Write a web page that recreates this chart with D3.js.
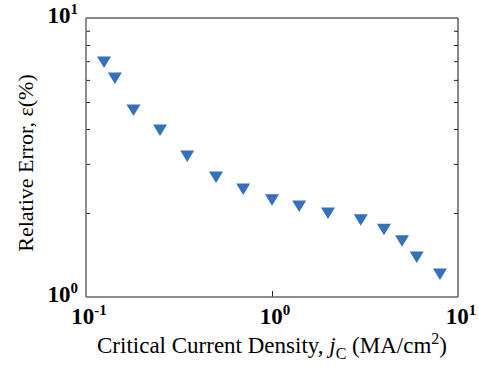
<!DOCTYPE html>
<html>
<head>
<meta charset="utf-8">
<script src="https://cdn.jsdelivr.net/npm/d3@7"></script>
<style>
  body { margin: 0; background: #fff; }
  svg { display: block; }
  .tick-label { font-family: 'Liberation Serif', 'Times New Roman', serif; font-weight: bold; }
  .axis-title { font-family: 'Liberation Serif', 'Times New Roman', serif; }
</style>
</head>
<body>
<svg id="chart" width="479" height="367"></svg>
<script>
// critical current density (MA/cm2)
const current_density = [0.125, 0.143, 0.18, 0.25, 0.35, 0.5, 0.7, 1.0, 1.4, 2.0, 3.0, 4.0, 5.0, 6.0, 8.0];
// relative error (%)
const relative_error = [6.96, 6.10, 4.68, 3.97, 3.20, 2.69, 2.44, 2.23, 2.12, 2.0, 1.89, 1.75, 1.59, 1.39, 1.21];
const x_ticks = [0.1, 1, 10];
const x_tick_exp = ['-1', '0', '1'];
const y_ticks = [1, 10];
const y_tick_exp = ['0', '1'];
const y_minor = [2, 3, 4, 5, 6, 7, 8, 9];

const svg = d3.select('#chart');
const plot_left = 86, plot_right = 458, plot_top = 18, plot_bottom = 297;

const x_scale = d3.scaleLog().domain([0.1, 10]).range([plot_left, plot_right]);
const y_scale = d3.scaleLog().domain([1, 10]).range([plot_bottom, plot_top]);

// minor ticks on y (left and right, inward)
svg.append('g')
  .attr('transform', 'translate(' + plot_left + ',0)')
  .call(d3.axisRight(y_scale).tickValues(y_minor).tickSize(4).tickFormat(''))
  .call(g => g.select('.domain').remove())
  .selectAll('line').attr('stroke', '#222');
svg.append('g')
  .attr('transform', 'translate(' + plot_right + ',0)')
  .call(d3.axisLeft(y_scale).tickValues(y_minor).tickSize(4).tickFormat(''))
  .call(g => g.select('.domain').remove())
  .selectAll('line').attr('stroke', '#222');

// major tick on x (inward)
svg.append('g')
  .attr('transform', 'translate(0,' + plot_bottom + ')')
  .call(d3.axisTop(x_scale).tickValues([1]).tickSize(6).tickFormat(''))
  .call(g => g.select('.domain').remove())
  .selectAll('line').attr('stroke', '#222');

// frame
svg.append('line').attr('x1', plot_left).attr('x2', plot_right).attr('y1', plot_top).attr('y2', plot_top)
  .attr('stroke', '#111').attr('stroke-width', 1);
svg.append('line').attr('x1', plot_right).attr('x2', plot_right).attr('y1', plot_top).attr('y2', plot_bottom)
  .attr('stroke', '#111').attr('stroke-width', 1);
svg.append('line').attr('x1', plot_left).attr('x2', plot_left).attr('y1', plot_top).attr('y2', plot_bottom)
  .attr('stroke', '#666').attr('stroke-width', 1.5);
svg.append('line').attr('x1', plot_left).attr('x2', plot_right).attr('y1', plot_bottom).attr('y2', plot_bottom)
  .attr('stroke', '#666').attr('stroke-width', 1.5);

// tick labels
function powerLabel(sel, exp) {
  sel.append('tspan').text('10');
  sel.append('tspan').attr('dy', -9).attr('font-size', 15).text(exp);
}
x_ticks.forEach(function(v, i) {
  const t = svg.append('text').attr('class', 'tick-label')
    .attr('x', x_scale(v) + 3).attr('y', 324)
    .attr('text-anchor', 'middle').attr('font-size', 23);
  powerLabel(t, x_tick_exp[i]);
});
y_ticks.forEach(function(v, i) {
  const t = svg.append('text').attr('class', 'tick-label')
    .attr('x', 78).attr('y', y_scale(v) + 5)
    .attr('text-anchor', 'end').attr('font-size', 23);
  powerLabel(t, y_tick_exp[i]);
});

// markers
const data = current_density.map((d, i) => ({x: d, y: relative_error[i]}));
svg.append('g').selectAll('path')
  .data(data)
  .enter().append('path')
  .attr('d', 'M-7,-5.5L7,-5.5L0,6Z')
  .attr('transform', d => 'translate(' + x_scale(d.x) + ',' + y_scale(d.y) + ')')
  .attr('fill', '#3470bb');

// axis titles
const xt = svg.append('text').attr('class', 'axis-title')
  .attr('x', 272).attr('y', 353).attr('text-anchor', 'middle').attr('font-size', 23);
xt.append('tspan').text('Critical Current Density, ');
xt.append('tspan').attr('font-style', 'italic').text('j');
xt.append('tspan').attr('dy', 6).attr('font-size', 16).text('C');
xt.append('tspan').attr('dy', -6).text(' (MA/cm');
xt.append('tspan').attr('dy', -9).attr('font-size', 16).text('2');
xt.append('tspan').attr('dy', 9).text(')');

svg.append('text').attr('class', 'axis-title')
  .attr('transform', 'translate(33,163) rotate(-90)')
  .attr('text-anchor', 'middle').attr('font-size', 22)
  .text('Relative Error, \u03b5(%)');
</script>
</body>
</html>
